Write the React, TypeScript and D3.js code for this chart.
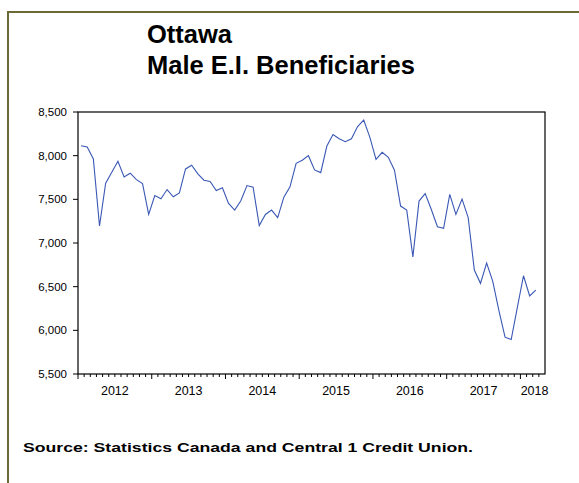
import * as d3 from 'd3';

// Monthly values, Jan 2012 .. Mar 2018
const startYear = 2012;
const values = [
  8114, 8099, 7962, 7195, 7685, 7810, 7935, 7757, 7799, 7726, 7681, 7327,
  7544, 7506, 7612, 7529, 7574, 7848, 7890, 7791, 7719, 7704, 7601, 7632,
  7453, 7377, 7484, 7658, 7639, 7199, 7327, 7377, 7290, 7525, 7643, 7913,
  7947, 8000, 7837, 7806, 8110, 8243, 8194, 8160, 8194, 8334, 8407, 8209,
  7958, 8038, 7981, 7833, 7423, 7377, 6841, 7480, 7565, 7384, 7187, 7168,
  7556, 7327, 7502, 7290, 6690, 6538, 6770, 6560, 6226, 5922, 5895, 6263,
  6625, 6393, 6461,
];
const yTicks = [5500, 6000, 6500, 7000, 7500, 8000, 8500];
const yearLabels = ['2012', '2013', '2014', '2015', '2016', '2017', '2018'];
const titleLines = ['Ottawa', 'Male E.I. Beneficiaries'];
const source = 'Source: Statistics Canada and Central 1 Credit Union.';

const W = 579;
const H = 483;
const font = 'Arial, "Liberation Sans", sans-serif';

export default function App() {
  const totalMonths = 76; // through Apr 2018
  const x = d3.scaleLinear().domain([0, totalMonths]).range([78, 545]);
  const y = d3.scaleLinear().domain([5500, 8500]).range([374, 112]);

  const line = d3
    .line<number>()
    .x((_, i) => x(i + 0.5))
    .y(d => y(d));

  const months = d3.range(0, totalMonths);
  const labelPos = (i: number) => (i < 6 ? i * 12 + 6 : i * 12 + 2.3);

  return (
    <svg
      width={W}
      height={H}
      style={{ position: 'absolute', left: 0, top: 0, background: '#fff' }}
      fontFamily={font}
    >
      {/* frame border */}
      <line x1={8} x2={8} y1={11} y2={H} stroke="#6b6a36" strokeWidth={2} />
      <line x1={7} x2={W} y1={12} y2={12} stroke="#6b6a36" strokeWidth={2} />

      {/* title */}
      {titleLines.map((t, i) => (
        <text key={t} x={147} y={43 + i * 31} fontSize={25.5} fontWeight="bold" fill="#000">
          {t}
        </text>
      ))}

      {/* plot frame */}
      <rect
        x={x(0)}
        y={y(8500)}
        width={x(totalMonths) - x(0)}
        height={y(5500) - y(8500)}
        fill="none"
        stroke="#000"
        strokeWidth={1.2}
      />

      {/* y axis */}
      {yTicks.map(t => (
        <g key={t}>
          <line x1={x(0) - 5} x2={x(0)} y1={y(t)} y2={y(t)} stroke="#000" />
          <text
            x={67}
            y={y(t)}
            dy="0.36em"
            textAnchor="end"
            fontSize={11.5}
            fill="#000"
          >
            {d3.format(',')(t)}
          </text>
        </g>
      ))}

      {/* x axis ticks */}
      {months.map(m => (
        <line
          key={m}
          x1={x(m)}
          x2={x(m)}
          y1={y(5500)}
          y2={y(5500) + (m % 12 === 0 ? 5 : 3)}
          stroke="#000"
        />
      ))}
      {yearLabels.map((l, i) => (
        <text key={l} x={x(labelPos(i))} y={395} textAnchor="middle" fontSize={12.5} fill="#000">
          {l}
        </text>
      ))}

      {/* series */}
      <path d={line(values) ?? ''} fill="none" stroke="#3a58b4" strokeWidth={1.1} />

      {/* source */}
      <text
        x={23}
        y={452}
        fontSize={13.5}
        fontWeight="bold"
        fill="#000"
        textLength={450}
        lengthAdjust="spacingAndGlyphs"
      >
        {source}
      </text>
    </svg>
  );
}
